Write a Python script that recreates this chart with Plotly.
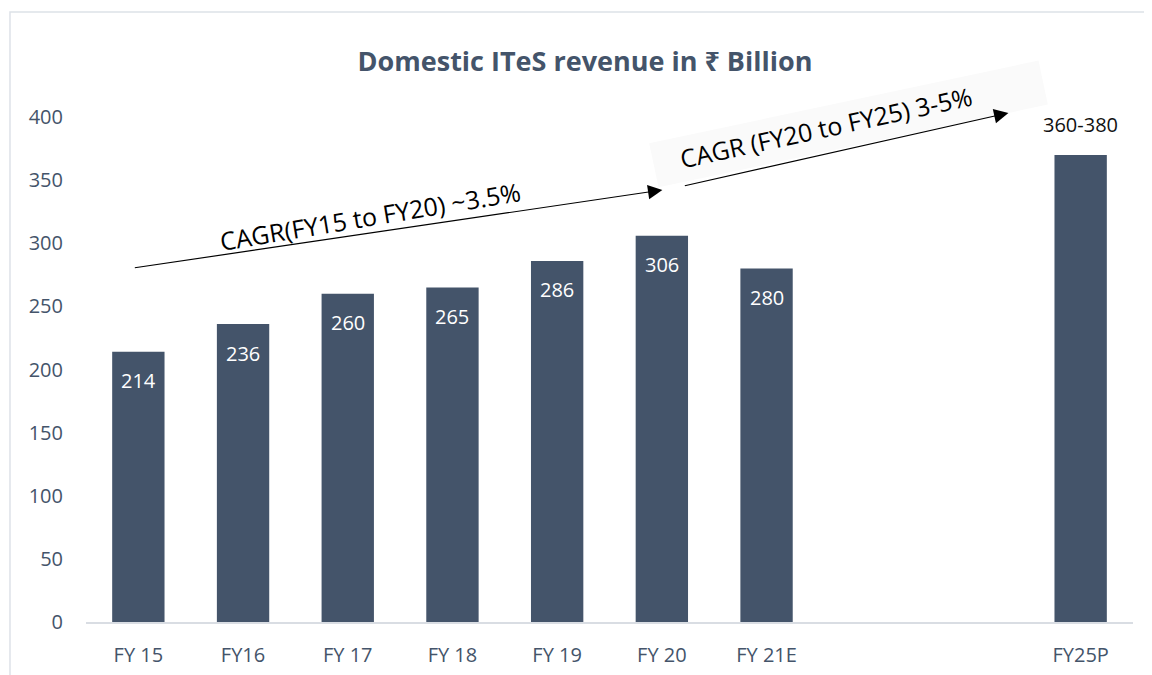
import plotly.graph_objects as go

categories = ["FY 15", "FY16", "FY 17", "FY 18", "FY 19", "FY 20", "FY 21E", " ", "  ", "FY25P"]
values = [214, 236, 260, 265, 286, 306, 280, None, None, 370]
labels = ["214", "236", "260", "265", "286", "306", "280", "", "", "360-380"]
y_ticks = [0, 50, 100, 150, 200, 250, 300, 350, 400]

BAR = "#44546A"
FONT = "'Open Sans', 'Noto Sans', 'DejaVu Sans', sans-serif"

fig = go.Figure()
fig.add_trace(go.Bar(x=categories, y=values, marker_color=BAR, marker_line_width=0,
                     hoverinfo="skip"))

ann = []
for c, v, t in zip(categories, values, labels):
    if v is None:
        continue
    if c == "FY25P":
        ann.append(dict(x=c, y=v, text=t, showarrow=False, yanchor="middle", yshift=30,
                        font=dict(family=FONT, size=20, color="#111111")))
    else:
        ann.append(dict(x=c, y=v, text=t, showarrow=False, yanchor="middle", yshift=-29,
                        font=dict(family=FONT, size=20, color="white")))

# arrows (CAGR)
ann.append(dict(x=5.005, y=342.2, ax=-0.048, ay=280.4, xref="x", yref="y", axref="x", ayref="y",
                showarrow=True, arrowhead=2, arrowsize=2.4, arrowwidth=1.2, arrowcolor="black", text=""))
# background box for second label
ann.append(dict(x=6.78, y=394.5, xref="x", yref="y", text=" ", showarrow=False, width=395, height=42,
                bgcolor="#fafafa", textangle=-12))
ann.append(dict(x=8.31, y=403.2, ax=5.205, ay=345.3, xref="x", yref="y", axref="x", ayref="y",
                showarrow=True, arrowhead=2, arrowsize=2.4, arrowwidth=1.2, arrowcolor="black", text=""))
ann.append(dict(x=2.216, y=321.6, xref="x", yref="y", text="CAGR(FY15 to FY20) ~3.5%", showarrow=False,
                textangle=-9.5, font=dict(family=FONT, size=25, color="black")))
ann.append(dict(x=6.571, y=392.1, xref="x", yref="y", text="CAGR (FY20 to FY25) 3-5%", showarrow=False,
                textangle=-12.3, font=dict(family=FONT, size=25, color="black")))

fig.update_layout(
    width=1152, height=675,
    margin=dict(l=78, r=27, t=109, b=61, autoexpand=False),
    paper_bgcolor="white", plot_bgcolor="white",
    bargap=0.5, showlegend=False,
    annotations=ann,
    font=dict(family=FONT, color=BAR),
    title=dict(text="<b>Domestic ITeS revenue in ₹ Billion</b>", x=577/1152, y=1 - 54/675,
               xref="container", yref="container", xanchor="center", yanchor="middle",
               font=dict(family=FONT, size=27, color=BAR)),
    shapes=[dict(type="rect", xref="paper", yref="paper", x0=-0.0726, x1=1.2, y0=-0.3, y1=1.208,
                 line=dict(color="#dde2e8", width=1.5), layer="below")],
)
fig.update_xaxes(type="category", categoryorder="array", categoryarray=categories,
                 showgrid=False, showline=True, linecolor="#d9dde3", linewidth=1.5,
                 ticks="", tickfont=dict(family=FONT, size=20, color=BAR), ticklabelstandoff=14,
                 zeroline=False, fixedrange=True)
fig.update_yaxes(range=[0, 400], tickvals=y_ticks, showgrid=False, showline=False, zeroline=False,
                 ticks="", tickfont=dict(family=FONT, size=20, color=BAR), ticklabelstandoff=22,
                 fixedrange=True)

fig.write_html("out.html")
